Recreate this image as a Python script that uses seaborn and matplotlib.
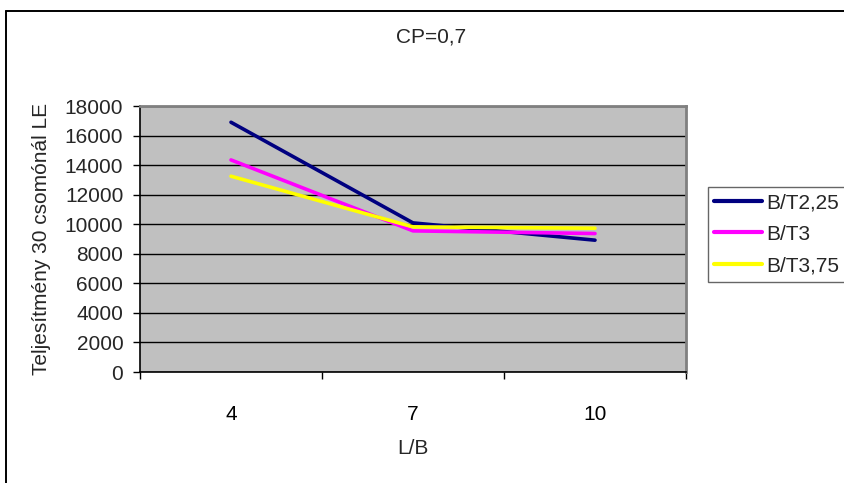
import matplotlib
matplotlib.use("Agg")
import matplotlib.pyplot as plt
from matplotlib.lines import Line2D
from matplotlib.ticker import FixedLocator, NullFormatter
import seaborn as sns
import pandas as pd

# Data
categories = ["4", "7", "10"]
series_names = ["B/T2,25", "B/T3", "B/T3,75"]
bt_225 = [16900, 10090, 8920]
bt_3 = [14350, 9550, 9370]
bt_375 = [13250, 9820, 9730]
yticks = [0, 2000, 4000, 6000, 8000, 10000, 12000, 14000, 16000, 18000]
colors = ["#000080", "#FF00FF", "#FFFF00"]

rows = []
for name, vals in zip(series_names, [bt_225, bt_3, bt_375]):
    for c, v in zip(categories, vals):
        rows.append({"L/B": c, "value": v, "series": name})
df = pd.DataFrame(rows)

sns.set_theme(style="white")
plt.rcParams["font.family"] = ["Liberation Sans", "DejaVu Sans"]

W, H = 845, 483
fig = plt.figure(figsize=(W / 100, H / 100), dpi=100)
fig.patch.set_facecolor("white")

# outer chart frame (only left/top visible)
fig.add_artist(Line2D([6.5 / W, 6.5 / W], [0, 1 - 10.5 / H], transform=fig.transFigure,
                      color="black", lw=1.4))
fig.add_artist(Line2D([6.5 / W, 1.0], [1 - 10.5 / H, 1 - 10.5 / H], transform=fig.transFigure,
                      color="black", lw=1.4))

left, right, top, bottom = 140, 686, 106, 372
ax = fig.add_axes([left / W, 1 - bottom / H, (right - left) / W, (bottom - top) / H])
ax.set_facecolor("#C0C0C0")

sns.lineplot(data=df, x="L/B", y="value", hue="series", hue_order=series_names,
             palette=colors, linewidth=2.6, ax=ax, legend=False, sort=False)

ax.set_xlim(-0.5, 2.5)
ax.set_ylim(0, 18000)
ax.set_yticks(yticks)
ax.set_yticklabels([str(t) for t in yticks], fontsize=15)
ax.yaxis.grid(True, color="black", linewidth=1.0)
ax.set_axisbelow(True)

ax.set_xticks([0, 1, 2])
ax.set_xticklabels(categories, fontsize=15)
ax.xaxis.set_minor_locator(FixedLocator([-0.5, 0.5, 1.5, 2.5]))
ax.xaxis.set_minor_formatter(NullFormatter())
ax.tick_params(axis="x", which="major", length=0, pad=24, colors="black")
ax.tick_params(axis="x", which="minor", length=5, width=1, color="black", bottom=True)
ax.tick_params(axis="y", which="major", length=5, width=1, pad=7, color="black", left=True)

for s in ["top", "right"]:
    ax.spines[s].set_color("#808080")
    ax.spines[s].set_linewidth(2)
for s in ["left", "bottom"]:
    ax.spines[s].set_color("black")
    ax.spines[s].set_linewidth(1.2)

ax.set_xlabel("L/B", fontsize=15)
ax.xaxis.label.set_va("center")
ax.xaxis.set_label_coords(0.5, (bottom - 448) / (bottom - top))
ax.set_ylabel("Teljesítmény 30 csomónál LE", fontsize=15)
ax.yaxis.label.set_va("center")
ax.yaxis.set_label_coords((42 - left) / (right - left), 0.5)

fig.text(431 / W, 1 - 37 / H, "CP=0,7", ha="center", va="center", fontsize=15)

handles = [Line2D([0], [0], color=c, lw=3) for c in colors]
leg = fig.legend(handles, series_names, loc="upper left", mode="expand",
                 bbox_to_anchor=(708 / W, 1 - 187 / H - 0.0001, 150 / W, 0.0001),
                 bbox_transform=fig.transFigure,
                 fontsize=15, frameon=True, fancybox=False, shadow=False,
                 handlelength=2.3, handletextpad=0.2, borderpad=0.3, labelspacing=0.6,
                 borderaxespad=0)
leg.get_frame().set_edgecolor("#404040")
leg.get_frame().set_linewidth(1.0)
leg.get_frame().set_facecolor("white")

fig.savefig("out.png", dpi=100)
